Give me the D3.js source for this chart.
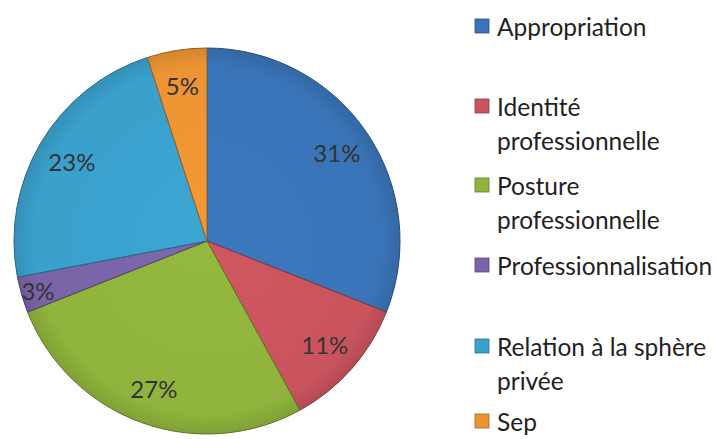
<!DOCTYPE html>
<html><head><meta charset="utf-8">
<script src="https://cdn.jsdelivr.net/npm/d3@7"></script>
<style>
html,body{margin:0;padding:0;background:#fff;}
svg{display:block;}
</style></head>
<body>
<svg id="chart" width="716" height="439"></svg>
<script>
const categories = ["Appropriation", "Identité professionnelle", "Posture professionnelle", "Professionnalisation", "Relation à la sphère privée", "Sep"];
const values = [31, 11, 27, 3, 23, 5];
const colors = ["#3a74b8", "#c9545e", "#8fb33c", "#7a64a8", "#3aa0cc", "#ec9433"];
const legendLines = [["Appropriation"], ["Identité", "professionnelle"], ["Posture", "professionnelle"], ["Professionnalisation"], ["Relation à la sphère", "privée"], ["Sep"]];
const legendY = [26, 106, 185, 265, 346, 421];

const svg = d3.select("#chart");
const cx = 207, cy = 241, r = 193;
const total = d3.sum(values);

const defs = svg.append("defs");
colors.forEach((c, i) => {
  const g = defs.append("radialGradient").attr("id", "g" + i)
    .attr("gradientUnits", "userSpaceOnUse").attr("cx", 0).attr("cy", 0).attr("r", r);
  g.append("stop").attr("offset", "0%").attr("stop-color", d3.color(c).brighter(0.1));
  g.append("stop").attr("offset", "90%").attr("stop-color", c);
  g.append("stop").attr("offset", "100%").attr("stop-color", d3.color(c).darker(0.3));
});

const pie = d3.pie().sort(null).value(d => d);
const arcs = pie(values);
const arc = d3.arc().innerRadius(0).outerRadius(r);
const g = svg.append("g").attr("transform", `translate(${cx},${cy})`);
g.selectAll("path.slice").data(arcs).join("path")
  .attr("class", "slice")
  .attr("d", arc)
  .attr("fill", (d, i) => `url(#g${i})`)
  .attr("stroke", (d, i) => d3.color(colors[i]).darker(1.2))
  .attr("stroke-width", 1);

const fmt = d3.format(".0%");
g.selectAll("text.lbl").data(arcs).join("text")
  .attr("class", "lbl")
  .attr("transform", d => {
    const rr = d.data < 4 ? 176 : 157;
    const a = (d.startAngle + d.endAngle) / 2;
    return `translate(${rr * Math.sin(a)},${-rr * Math.cos(a)})`;
  })
  .attr("text-anchor", "middle").attr("dominant-baseline", "central")
  .attr("font-family", "Lato, 'Open Sans', sans-serif")
  .attr("font-size", 24).attr("fill", "#333")
  .text(d => fmt(d.data / total));

const lg = svg.append("g");
categories.forEach((c, i) => {
  const y = legendY[i];
  lg.append("rect").attr("x", 475).attr("y", y - 7).attr("width", 14).attr("height", 14)
    .attr("fill", colors[i]).attr("stroke", d3.color(colors[i]).darker(1)).attr("stroke-width", 0.8);
  legendLines[i].forEach((t, j) => {
    lg.append("text").attr("x", 497).attr("y", y + j * 34)
      .attr("dominant-baseline", "central")
      .attr("font-family", "Lato, 'Open Sans', sans-serif")
      .attr("font-size", 24.5).attr("fill", "#222")
      .text(t);
  });
});
</script>
</body></html>
